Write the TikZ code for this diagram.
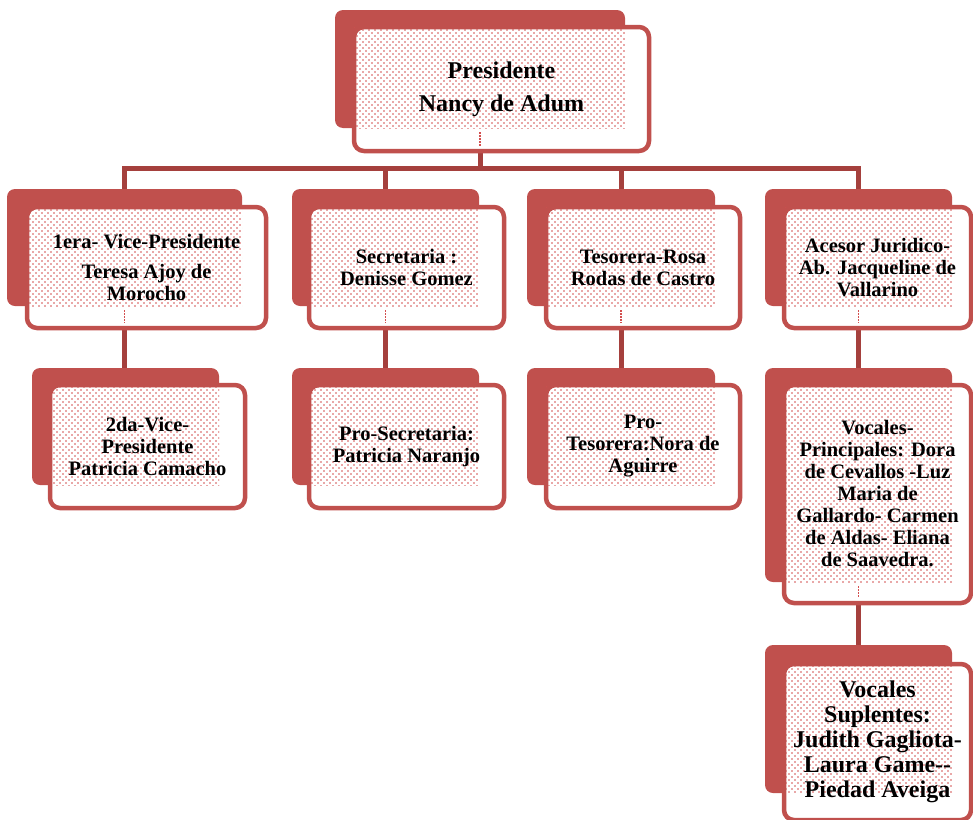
\documentclass[tikz,border=0pt]{standalone}
\usepackage{fontspec}
\setmainfont{Liberation Serif}
\usetikzlibrary{fit,patterns,calc}

\definecolor{backred}{HTML}{C0504D}
\definecolor{connred}{HTML}{A5403D}
\definecolor{dotred}{HTML}{D34F4F}

\pgfdeclarelayer{wires}
\pgfsetlayers{wires,main}

% fine diagonal grid of dots used inside the boxes
\pgfdeclarepatternformonly{redgrain}{\pgfqpoint{-1pt}{-1pt}}{\pgfqpoint{5pt}{5pt}}{\pgfqpoint{6pt}{6pt}}{%
  \pgfpathcircle{\pgfqpoint{0pt}{0pt}}{0.9pt}%
  \pgfpathcircle{\pgfqpoint{3pt}{3pt}}{0.9pt}%
  \pgfusepath{fill}}

\tikzset{
  backbox/.style={fill=backred, rounded corners=8pt, inner sep=0pt, outer sep=0pt},
  frontbox/.style={fill=white, rounded corners=10pt, inner sep=0pt, outer sep=0pt},
  frontline/.style={draw=backred, line width=4.5pt, rounded corners=10pt},
  grain/.style={pattern=redgrain, pattern color=dotred},
  conn/.style={draw=connred, line width=5pt, line join=miter},
  innerdots/.style={draw=dotred, line width=1.2pt, dash pattern=on 1.5pt off 1.5pt},
  lbl/.style={align=center, inner sep=0pt, font=\bfseries\fontsize{20.5}{22}\selectfont},
  lblbig/.style={align=center, inner sep=0pt, font=\bfseries\fontsize{24}{25}\selectfont},
}

% one unit: shadow block, white card, dotted fill where they overlap, card border
\newcommand\orgbox[5]{%
  \node[backbox, fit={#2 #3}] (#1B) {};
  \node[frontbox, fit={#4 #5}] (#1F) {};
  \fill[grain] (#1F.north west) rectangle (#1B.south east);
  \draw[frontline] (#1F.north west) rectangle (#1F.south east);
}
% short dotted trace where an outgoing line leaves a card
\newcommand\tail[1]{%
  \draw[innerdots] ($(#1B.south)+(0pt,-4pt)$) -- ($(#1B.south |- #1F.south)+(0pt,5pt)$);
}

\begin{document}
\begin{tikzpicture}[x=1pt, y=-1pt]
\useasboundingbox (0,0) rectangle (973,819);
\clip (0,0) rectangle (973,819);

\orgbox{pres}{(335,10)}{(625,128)}{(354,27)}{(649,151)}
\orgbox{vp}{(7,189)}{(242,306)}{(27,207)}{(266,328)}
\orgbox{sec}{(292,189)}{(479,306)}{(309,207)}{(504,328)}
\orgbox{tes}{(527,189)}{(715,306)}{(546,207)}{(740,328)}
\orgbox{leg}{(765,189)}{(952,306)}{(784,207)}{(971,328)}
\orgbox{vptwo}{(32,368)}{(219,485)}{(50,385)}{(245,508)}
\orgbox{sectwo}{(292,368)}{(479,485)}{(309,385)}{(504,508)}
\orgbox{testwo}{(527,368)}{(715,485)}{(546,385)}{(740,508)}
\orgbox{voc}{(765,368)}{(952,582)}{(784,385)}{(971,603)}
\orgbox{sup}{(765,645)}{(952,793)}{(784,664)}{(971,820)}

\tail{pres}
\tail{vp}
\tail{sec}
\tail{tes}
\tail{leg}
\tail{voc}

% labels
\node[align=center, inner sep=0pt, font=\bfseries\fontsize{24}{29}\selectfont] (presT) at (presF.center) {Presidente\\[4pt]Nancy de Adum};
\node[lbl] (vpT) at (vpF.center) {1era- Vice-Presidente\\[8pt]Teresa Ajoy de\\Morocho};
\node[lbl] (secT) at (secF.center) {Secretaria :\\Denisse Gomez};
\node[lbl] (tesT) at (tesF.center) {Tesorera-Rosa\\Rodas de Castro};
\node[lbl] (legT) at (legF.center) {Acesor Juridico-\\Ab. Jacqueline de\\Vallarino};
\node[lbl] (vptwoT) at (vptwoF.center) {2da-Vice-\\Presidente\\Patricia Camacho};
\node[lbl] (sectwoT) at (sectwoF.center) {Pro-Secretaria:\\Patricia Naranjo};
\node[lbl] (testwoT) at (testwoF.center) {Pro-\\Tesorera:Nora de\\Aguirre};
\node[lbl] (vocT) at (vocF.center) {Vocales-\\Principales: Dora\\de Cevallos -Luz\\Maria de\\Gallardo- Carmen\\de Aldas- Eliana\\de Saavedra.};
\node[lblbig] (supT) at (supF.center) {Vocales\\Suplentes:\\Judith Gagliota-\\Laura Game-{}-\\Piedad Aveiga};

% connectors, kept underneath the cards
\begin{pgfonlayer}{wires}
\coordinate (bus) at (480,168.5);
\draw[conn] (vpB.north) -- (vpB.north |- bus) -- (legB.north |- bus) -- (legB.north);
\draw[conn] (presB.south) -- (presB.south |- bus);
\draw[conn] (secB.north |- bus) -- (secB.north);
\draw[conn] (tesB.north |- bus) -- (tesB.north);
\draw[conn] (vpB.south) -- (vpB.south |- vptwoB.north);
\draw[conn] (secB.south) -- (secB.south |- sectwoB.north);
\draw[conn] (tesB.south) -- (tesB.south |- testwoB.north);
\draw[conn] (legB.south) -- (legB.south |- vocB.north);
\draw[conn] (vocB.south) -- (vocB.south |- supB.north);
\end{pgfonlayer}

\end{tikzpicture}
\end{document}
